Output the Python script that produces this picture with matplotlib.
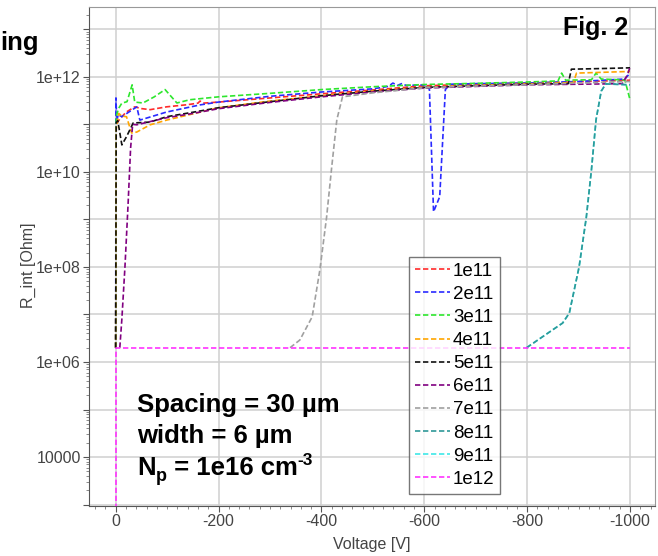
import matplotlib
matplotlib.use("Agg")
import matplotlib.pyplot as plt
import numpy as np
from matplotlib.ticker import FixedLocator, FixedFormatter, LogLocator, MultipleLocator, NullFormatter
from matplotlib.transforms import IdentityTransform

plt.rcParams["font.family"] = ["Liberation Sans", "DejaVu Sans"]
plt.rcParams["axes.unicode_minus"] = False

labels = ["1e11", "2e11", "3e11", "4e11", "5e11", "6e11", "7e11", "8e11", "9e11", "1e12"]
colors = ["#ff2a2a", "#2a2aff", "#2ee62e", "#ffa500", "#111111",
          "#800080", "#a0a0a0", "#2f9898", "#3ee8e8", "#ff33ff"]

v_1e11 = [0, -1, -8, -20, -37, -50, -67, -99, -140, -160, -164, -170, -200, -300, -400,
          -500, -600, -700, -800, -900, -1000]
r_1e11 = [2e6, 1e11, 1.3e11, 1.8e11, 2.34e11, 2.15e11, 2.04e11, 2.34e11, 2.6e11, 2.8e11,
          3.1e11, 2.8e11, 2.95e11, 3.6e11, 4.4e11, 5.3e11, 6.5e11, 7e11, 7.4e11, 7.9e11, 8.5e11]

v_2e11 = [0, -0.5, -2, -5, -12, -25, -41, -47, -99, -164, -200, -300, -400, -500, -530, -539,
          -548, -556, -565, -605, -610, -618, -630, -641, -650, -700, -800, -900, -990, -1000]
r_2e11 = [2e6, 3.6e11, 1.2e11, 1.6e11, 1.45e11, 1.8e11, 2.34e11, 1.23e11, 1.82e11, 2.57e11,
          2.95e11, 3.9e11, 4.8e11, 5.6e11, 6.3e11, 7.4e11, 6.6e11, 7.2e11, 6.6e11, 6.8e11,
          5.4e11, 1.45e9, 3e9, 5.4e11, 7e11, 7.2e11, 7.4e11, 8e11, 9e11, 1.2e12]

v_3e11 = [0, -1, -6, -12, -22, -32, -37, -53, -75, -96, -119, -144, -200, -300, -400, -500,
          -600, -700, -800, -860, -867, -875, -925, -934, -944, -990, -1000]
r_3e11 = [2e6, 1.5e11, 2.2e11, 2.8e11, 3e11, 6.8e11, 2.95e11, 2.82e11, 3.8e11, 5.4e11,
          2.82e11, 3.3e11, 3.8e11, 4.5e11, 5.4e11, 6.2e11, 6.9e11, 7.3e11, 7.8e11, 8.2e11,
          1.2e12, 8.5e11, 8.7e11, 1.2e12, 9e11, 8.6e11, 3.3e11]

v_4e11 = [0, -1, -6, -12, -21, -31, -41, -67, -99, -200, -300, -400, -500, -600, -700, -800,
          -890, -896, -950, -1000]
r_4e11 = [2e6, 8e10, 1.7e11, 1.5e11, 1.45e11, 6.6e10, 6.9e10, 9.8e10, 1.23e11, 2.24e11,
          3.1e11, 4e11, 5e11, 6e11, 6.6e11, 7.1e11, 7.6e11, 1.2e12, 1.25e12, 1.3e12]

v_5e11 = [0, -1, -4, -12, -21, -34, -67, -99, -150, -200, -300, -400, -500, -600, -700, -800,
          -880, -886, -950, -1000]
r_5e11 = [2e6, 1.1e11, 1.2e11, 3.7e10, 5.5e10, 1.07e11, 1.12e11, 1.45e11, 1.8e11, 2.24e11,
          3e11, 4e11, 5e11, 6e11, 6.5e11, 7e11, 7.2e11, 1.45e12, 1.5e12, 1.55e12]

# the flat 2e6 part of 6e11..9e11 lies hidden under 1e12, so those start at their rise
v_6e11 = [-8, -12, -18, -24, -29, -33, -41, -60, -99, -150, -200, -300, -400, -500, -600,
          -700, -800, -900, -985, -995, -1000]
r_6e11 = [2e6, 8e6, 1e8, 2e9, 3.2e10, 1e11, 9.8e10, 1.1e11, 1.38e11, 1.7e11, 2.14e11,
          2.9e11, 3.8e11, 4.8e11, 5.8e11, 6.3e11, 6.8e11, 7e11, 7.2e11, 1.1e12, 1.6e12]

v_7e11 = [-339, -358, -382, -397, -410, -420, -430, -441, -500, -600, -700, -800, -900, -1000]
r_7e11 = [2e6, 2.9e6, 8.9e6, 8.7e7, 1.1e9, 1.26e10, 1.26e11, 3.8e11, 4.6e11, 5.9e11,
          6.4e11, 6.8e11, 7.4e11, 8e11]

v_8e11 = [-799, -830, -869, -882, -901, -915, -925, -934, -944, -953, -1000]
r_8e11 = [2e6, 3.4e6, 6.6e6, 1.07e7, 1e8, 1.1e9, 1.1e10, 1.26e11, 5e11, 7.1e11, 6.8e11]

v_9e11 = [-799, -830, -869, -882, -901, -915, -925, -934, -944, -953, -1000]
r_9e11 = [2e6, 3.4e6, 6.6e6, 1.07e7, 1e8, 1.1e9, 1.1e10, 1.26e11, 5e11, 7.1e11, 6.8e11]

v_1e12 = [0, 0, -1000]
r_1e12 = [10, 2e6, 2e6]

voltages = [v_1e11, v_2e11, v_3e11, v_4e11, v_5e11, v_6e11, v_7e11, v_8e11, v_9e11, v_1e12]
resist = [r_1e11, r_2e11, r_3e11, r_4e11, r_5e11, r_6e11, r_7e11, r_8e11, r_9e11, r_1e12]

x_ticks = [0, -200, -400, -600, -800, -1000]
y_major = [10.0 ** k for k in range(3, 14)]
y_labels = ["", "10000", "", "1e+06", "", "1e+08", "", "1e+10", "", "1e+12", ""]

W, H = 658, 556
fig = plt.figure(figsize=(W / 100, H / 100), dpi=100)
ax = fig.add_axes([89 / W, 1 - 506 / H, (655 - 89) / W, (506 - 7) / H])

# 8e11 over 9e11 (they coincide), 1e12 on top
zorders = [3, 3, 3, 3, 3, 3, 3, 3.2, 3.1, 4]
handles = []
for i, (v, r) in enumerate(zip(voltages, resist)):
    (ln,) = ax.plot(v, r, color=colors[i], lw=1.2, dashes=(3.2, 1.6), label=labels[i],
                    zorder=zorders[i])
    handles.append(ln)

ax.set_yscale("log")
ax.set_xlim(51.9, -1048.6)
ax.set_ylim(10 ** 2.97, 10 ** 13.47)

ax.yaxis.set_major_locator(FixedLocator(y_major))
ax.yaxis.set_major_formatter(FixedFormatter(y_labels))
ax.yaxis.set_minor_locator(LogLocator(base=10, subs=np.arange(2, 10), numticks=30))
ax.yaxis.set_minor_formatter(NullFormatter())
ax.xaxis.set_major_locator(FixedLocator(x_ticks))
ax.xaxis.set_minor_locator(MultipleLocator(20))

ax.grid(True, which="major", color="#cfcfcf", lw=1.1, zorder=0)
ax.set_axisbelow(True)
ax.tick_params(which="major", direction="out", length=4, width=0.8, colors="#555555",
               labelsize=11.5, labelcolor="#444444", pad=2)
ax.tick_params(which="minor", direction="out", length=2.2, width=0.6, colors="#777777")
ax.tick_params(top=False, right=False)
for side in ["left", "bottom"]:
    ax.spines[side].set_color("#555555")
for side in ["top", "right"]:
    ax.spines[side].set_color("#999999")

fig.text(28 / W, 1 - 265 / H, "R_int [Ohm]", rotation=90, ha="center", va="center",
         fontsize=11.5, color="#444444")
fig.text(372 / W, 1 - 545 / H, "Voltage [V]", ha="center", va="center",
         fontsize=11.5, color="#444444")

leg = fig.legend(handles=handles, loc="upper left", bbox_to_anchor=(409 / W, 1 - 257 / H),
                 fontsize=13.5, frameon=True, fancybox=False, borderpad=0.3,
                 labelspacing=0.32, handlelength=1.9, handletextpad=0.15, borderaxespad=0)
leg.get_frame().set_edgecolor("#555555")
leg.get_frame().set_linewidth(1.0)

fig.text(0, 1 - 50 / H, "ing", ha="left", va="baseline", fontsize=18.5, fontweight="bold")
fig.text(628 / W, 1 - 35 / H, "Fig. 2", ha="right", va="baseline", fontsize=18, fontweight="bold")

# annotation block, pixel coordinates from the bottom-left corner
px = IdentityTransform()
x0 = 137
fig.text(x0, H - 412, "Spacing = 30 \u00b5m", transform=px, ha="left", va="baseline",
         fontsize=18.5, fontweight="bold")
fig.text(x0, H - 443, "width = 6 \u00b5m", transform=px, ha="left", va="baseline",
         fontsize=18.5, fontweight="bold")

renderer = fig.canvas.get_renderer()
base = H - 475
pieces = [("N", 18.5, 0), ("p", 13, -6), (" = 1e16 cm", 18.5, 0), ("-3", 12.5, 10)]
xc = x0
for s, fs, dy in pieces:
    t = fig.text(xc, base + dy, s, transform=px, ha="left", va="baseline",
                 fontsize=fs, fontweight="bold")
    xc = t.get_window_extent(renderer).x1

fig.savefig("out.png", dpi=100)
